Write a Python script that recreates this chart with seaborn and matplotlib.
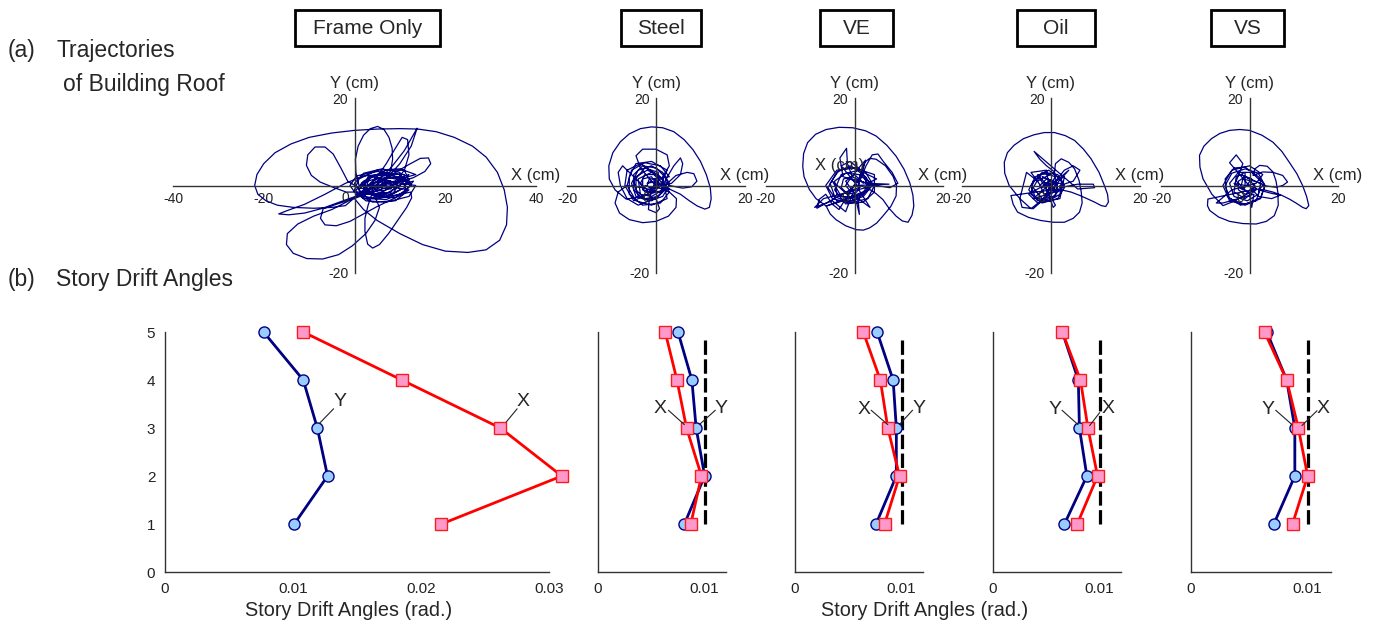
import numpy as np
import pandas as pd
import matplotlib
matplotlib.use("Agg")
import matplotlib.pyplot as plt
from matplotlib.patches import Rectangle
import seaborn as sns

# ---- data ----
cases = ['Frame Only', 'Steel', 'VE', 'Oil', 'VS']
stories = [1, 2, 3, 4, 5]

# story drift angles (rad.), story 1..5
drift_y = {
    'Frame Only': [0.0101, 0.0127, 0.0119, 0.0108, 0.0077],
    'Steel': [0.0081, 0.0100, 0.0092, 0.0088, 0.0075],
    'VE': [0.0076, 0.0095, 0.0095, 0.0092, 0.0077],
    'Oil': [0.0067, 0.0088, 0.0081, 0.0080, 0.0065],
    'VS': [0.0071, 0.0089, 0.0089, 0.0082, 0.0065],
}
drift_x = {
    'Frame Only': [0.0216, 0.0310, 0.0262, 0.0185, 0.0108],
    'Steel': [0.0087, 0.0097, 0.0083, 0.0074, 0.0063],
    'VE': [0.0084, 0.0098, 0.0087, 0.0080, 0.0064],
    'Oil': [0.0079, 0.0098, 0.0089, 0.0082, 0.0065],
    'VS': [0.0087, 0.0100, 0.0092, 0.0082, 0.0063],
}
limit_angle = 0.01

# roof trajectories (cm), as pieces of (X, Y)
fo_loops = [
    [(5, 0), (2, -1), (-2, -4.6), (-5, -5), (-9, -5.2), (-13.5, -5), (-17, -4.5), (-19.5, -3.5),
     (-21.3, -2), (-22, 0), (-21.5, 2.5), (-20, 5), (-17.5, 7.5), (-14, 9.5), (-10, 11), (-5, 12),
     (0, 12.6), (5, 12.9), (10, 13), (14, 12.9), (18, 12.3), (22, 11), (26, 9), (29, 6.5),
     (31.5, 3), (33, -1), (33.7, -5), (33.5, -9), (32, -12.5), (29, -14.7), (25, -15.3), (20, -15),
     (15, -13.5), (10, -11), (5, -8), (2, -5.5), (0, -3), (3, -1)],
    [(4, 0), (8, 4), (11, 8), (13.8, 13.1), (12.5, 9), (10, 5), (7, 1.5)],
    [(-1.8, -3.8), (-5, -5.5), (-9, -7), (-12.5, -8.8), (-14.8, -11), (-15, -13.5), (-13.5, -15.5),
     (-10.5, -16.7), (-7, -16.8), (-3.5, -15.8), (-0.5, -13.8), (2.5, -11), (4.5, -8), (5.5, -5),
     (4.5, -2.5), (2.5, -1)],
    [(7, 0), (3, -1.5), (-2, -3.3), (-7, -5.2), (-11, -6.3), (-14.5, -6.7), (-16.7, -6.5),
     (-15, -5.8), (-11, -4.3), (-6.5, -2), (-2, 0.5), (2, 2.2), (6, 2.5), (9.8, 1.5), (9, 0.3), (6, 0)],
    [(1, 0), (0.3, 3), (0.2, 6), (0.8, 9), (2, 11.5), (3.5, 13), (5.1, 13.5), (6.5, 12.8),
     (7.6, 11), (8.3, 8.5), (8.4, 6), (8, 3.5), (6.9, 1.5), (5, 0.5)],
    [(6, 1), (9, 3), (12, 4.8), (14.5, 6.2), (16.3, 6.3), (16.8, 5), (15.5, 3.2), (13, 1.8),
     (10, 0.8), (7, -0.5)],
    [(-6.9, -5.3), (-7.5, -7.5), (-6.5, -9), (-4, -9.2), (-1, -8.2), (2, -6.5), (5, -4.8),
     (8.4, -3.1), (11, -1.8), (12.4, -1.5), (12.6, -2.8), (11.5, -5), (9.5, -8), (7.5, -11),
     (5.5, -13.5), (4, -14.3), (2.9, -13.4), (2.3, -10.5), (2.3, -7.5), (3, -4.5), (4, -1.5)],
    [(4, -0.8), (1, -0.6), (-1.5, 1), (-3, 4), (-4.7, 7.2), (-6.5, 8.8), (-8.7, 8.8), (-10.3, 7),
     (-10.6, 4.6), (-9.5, 2.3), (-7.6, 0.8), (-4.5, -0.5), (-1.8, -1.5), (1.5, -1.5)],
    [(5, 2), (7, 5), (9, 8.5), (10.5, 11), (11.7, 10.5), (12, 7), (11, 3.5), (9, 1)],
]
fo_core = [
    [(12, 0.5), (10, 2.5), (5, 3.2), (0.5, 2.2), (-1, 0), (0.5, -2.2), (5, -3), (10, -2), (12.5, 0)],
    [(11, 3.5), (7, 3.5), (2, 1), (0, -1.5), (2, -3), (6, -2.5), (10, 0), (12, 2.5)],
    [(9, 1.5), (6, 2), (3, 1), (2.5, -1), (5, -2), (8, -1.5), (9.5, 0)],
    [(13, 1), (11, -1.5), (7, -3.2), (3, -3), (1, -1), (3, 1.8), (7, 2.8), (11, 2.5)],
    [(11, 1), (8, 2.5), (4, 2.2), (2, 0), (4, -2), (8, -2.2), (11, -0.5), (12, 1.5)],
    [(8, 0.5), (6, 1.2), (4, 0.5), (4.5, -1), (6.5, -1.2), (8, -0.3)],
    [(12, -1), (9, -3.5), (4, -3.8), (1.5, -2.5), (3, 0), (7, 1.8), (11, 1.5), (12.5, 0)],
    [(9.5, 2), (6, 2.8), (3, 2), (2, -0.5), (4.5, -2.5), (9, -2.8), (11.5, -1), (10.5, 1)],
    [(10, 3), (6, 3.8), (2, 2.8), (0, 0.5), (1.5, -1.8), (5, -2), (8, -0.5), (10, 1.5)],
    [(13.5, 2.5), (10, 3.8), (5, 3.5), (1, 1.5), (0, -1), (2.5, -3.5), (7, -3.8), (12, -2.5), (13.5, 0)],
    [(7, 1), (4, 2), (1.5, 0.5), (3, -2), (7, -2.5), (10, -1), (9, 1), (6, 0.5)],
    [(8, 1), (5.5, 1.8), (3.5, 0.5), (5, -1.5), (8.5, -1.8), (9.5, -0.2), (8, 1)],
    [(6.5, 0.2), (7.5, 1), (9, 0.5), (8, -0.8), (6, -0.6), (5, 0.3)],
]
st_loops = [
    [(3, -0.8), (0, -1.5), (-3, -2.5), (-6.7, -3.1), (-9.2, -1), (-10.5, 1.5), (-10.6, 4.5),
     (-9.7, 7.5), (-8, 10), (-6, 11.8), (-3.5, 13), (-1, 13.4), (1.5, 13.2), (4, 12.3), (6.3, 10.5),
     (8.3, 8.2), (10, 5.5), (11.3, 2.5), (12.2, -0.5), (12.4, -3), (12, -5), (11, -5.4), (9.3, -4.7),
     (7.5, -3.5), (5.5, -2), (3, -0.8)],
    [(0.7, -1.5), (-3, -0.5), (-6.5, 0), (-8.5, -1.5), (-9.2, -4), (-8.2, -6.3), (-6, -7.8),
     (-3, -8.5), (0, -8.2), (2.8, -7), (4.5, -5), (4.6, -3), (3, -1.5), (0.5, -0.5)],
    [(-1, 1), (-3.5, 4), (-4.5, 6.8), (-3, 8.3), (0, 8.3), (2.5, 7), (3, 4.5), (1.5, 2), (0, 0.5)],
    [(2, 0), (4.5, 2.3), (7, 3), (8.5, 2.7), (9.2, 1), (8, -0.3), (6, -0.6), (3, 0)],
    [(2, 1), (4, 4.5), (5.5, 6.3), (6, 5), (5.5, 2.5), (3.5, 0.5)],
    [(-2, -1), (-5, 2), (-7.5, 4.5), (-8.5, 3), (-8, 0), (-6.5, -3), (-4, -4.5), (-1.5, -3.5)],
    [(0, -3), (0.8, -5.3), (0, -6.2), (-1.7, -5.5), (-1.5, -3)],
]
st_core = [
    [(3, 0.5), (1.5, 3), (-1, 4.5), (-4, 3.5), (-5.5, 0.5), (-4.5, -2.5), (-1.5, -3.5), (1.5, -2.5), (3, 0)],
    [(2, 2), (0, 4), (-3, 4.5), (-5, 2.5), (-5, -1), (-3, -3), (0, -3), (2, -1)],
    [(1, 1), (-0.5, 2.5), (-2.5, 2.5), (-3.5, 0.5), (-2.5, -1.5), (-0.5, -1.5), (1, 0)],
    [(2.5, 3.5), (-1, 5.5), (-4.5, 5), (-6, 2), (-6, -2), (-3, -4.5), (1, -4), (3, -1.5)],
    [(2, 0.5), (0.5, 2.5), (-2, 3.5), (-4.5, 2), (-4.5, -1), (-2.5, -3), (0.5, -2.5), (2, -0.5)],
    [(0, 1.5), (-1.5, 1.5), (-2, 0), (-1, -0.8), (0.5, 0)],
    [(0.5, 3), (-2.5, 4), (-5, 1), (-4, -2.5), (-1, -3.5), (1.5, -1.5), (1.5, 1.5)],
    [(-3.5, 5), (-6.5, 3.5), (-7, 0), (-5, -3.5), (-2, -2), (0, 0.5)],
    [(-1, 2), (-3, 1.5), (-3, -1), (-1, -1.5), (0.5, 0), (-0.5, 1.5)],
    [(3, 2), (1, 4.5), (-2.5, 5.2), (-5.5, 3.5), (-6.5, 0), (-4.5, -3.5), (-1, -4.5), (2.5, -3)],
    [(1.5, 1.5), (-1, 3), (-4, 1.5), (-3.5, -2), (-1, -2.5), (1.5, -1), (0.5, 1)],
    [(-2, 0.5), (-1, 1), (0, 0), (-1, -0.5), (-2.5, 0)],
]
ve_loops = [
    [(3.4, -0.9), (0, -2.5), (-3.5, -3.8), (-6.4, -4.7), (-8.7, -3), (-10.2, -0.9), (-11.4, 2),
     (-11.7, 4.4), (-11.5, 7.3), (-10.6, 9.8), (-8.8, 11.7), (-6.4, 12.8), (-3.5, 13.3), (-0.4, 13.2),
     (2.5, 12.5), (4.9, 11.3), (7.3, 9.2), (9.4, 6.7), (11.2, 3.7), (12.5, 0.6), (13.2, -2.2),
     (13.4, -4.7), (13, -6.8), (12.1, -8.4), (10.8, -8.1), (9.4, -7), (7.8, -5.2), (6.4, -3.2),
     (4.8, -1.8), (3.4, -0.9)],
    [(-6.4, -4.7), (-5.5, -6.5), (-4.2, -7.8), (-2, -9.2), (0.4, -10.1), (2, -10.2), (3.4, -9.7),
     (5, -8.6), (6.4, -7), (8.2, -4.8), (9.4, -2.4), (9.5, 0), (8.7, 2.1), (7, 4.5), (4.9, 6),
     (3.4, 6.2), (2.3, 5.3), (1.5, 3), (0.8, 1)],
    [(1, 0.5), (2.6, 4.5), (4, 7), (5.3, 7.2), (6.5, 5.5), (8.5, 3), (9.8, 0.5), (8, -0.5), (5, 0)],
    [(-2.6, 2), (-3.3, 6.3), (-1.8, 8.5), (-1.6, 5), (-0.5, 2), (0.5, 3.5), (2.5, 5.8), (1.5, 2)],
    [(-1, -1), (-8.5, -5.2), (-8, -3.2), (-6.5, -2), (-5, -4.3), (-3.5, -5.5), (-2, -3)],
    [(0, 0), (7.8, 0.3), (3, 0.5)],
]
ve_core = [
    [(4, 0.5), (2.5, 3), (-0.5, 4.2), (-3.5, 3.5), (-5.5, 0.5), (-4.5, -2.5), (-1.5, -3.8), (2, -2.5), (4, 0)],
    [(2, 2.5), (-1, 4.5), (-4, 3), (-6, -0.5), (-4, -3.5), (0, -3.5), (3, -1), (2.5, 2)],
    [(3, 1), (1, 2.5), (-2, 2.8), (-4.5, 1), (-4, -2), (-1, -3), (2, -2), (3.5, 0)],
    [(1.5, 1), (-0.5, 2), (-2.5, 1.5), (-3, -0.5), (-1.5, -2), (0.5, -1.5), (1.5, 0)],
    [(5, 1.5), (1, 3.5), (-3, 2.5), (-4.5, -1), (-2, -4.2), (2, -3.8), (4.5, -1.5)],
    [(4.5, 2.5), (0, 4), (-4, 3.5), (-6.5, 0), (-5, -3), (-1, -4), (3, -3), (4.5, 0)],
    [(-7, -3), (-9, -5), (-5, -3.5), (-2, -6), (-0.5, -2), (3.5, -5), (1, -1)],
    [(1, 0.5), (-1, 1.5), (-2, 0), (-1, -1.2), (1, -0.5)],
    [(-3, 4.5), (-1, 5.5), (1.5, 3.5), (3, 0), (1, -3), (-3, -2.5), (-5, 1)],
    [(0.5, -4), (1.1, -6.6), (0.8, -3), (-2, 1), (0, 2.5), (2, 0.5)],
]
oil_loops = [
    [(1.5, -0.8), (-1, -2.5), (-4.5, -5.3), (-7, -3), (-9.4, 0), (-10.4, 2.8), (-10.5, 5.3),
     (-9.8, 7.5), (-8.3, 9.2), (-6.2, 10.7), (-3.8, 11.6), (-1.5, 12.1), (0.8, 12.1), (3.2, 11.4),
     (5.3, 10.3), (7.3, 8.3), (9, 6.1), (10.8, 3), (12, 0), (12.7, -2), (12.9, -3.8), (12.3, -4.8),
     (11.3, -4.6), (9.8, -3.8), (8.3, -3.1), (6.3, -2.2), (4.5, -1.5), (1.5, -0.8)],
    [(-9, -2.3), (-8.5, -4.3), (-7.5, -6.1), (-5, -7.3), (-2.3, -8), (0.5, -8.4), (3, -8.4),
     (5, -7.5), (6.4, -6.1), (7, -4), (6.8, -1.5), (6.3, 1.2), (5.3, 3.8), (4, 5.3), (2.3, 6.1),
     (1, 5), (0.8, 3.1)],
    [(1, 1), (3, 3.5), (5, 4.5), (6.5, 3.5), (5, 1), (2, 0)],
    [(2, -0.5), (6, 0.3), (9.5, 0.3), (9.8, -0.5), (6, -0.8)],
    [(-3.8, 7.8), (-2.5, 6), (-1, 4.5), (0.8, 3.1)],
    [(-3, 1), (-5.5, 3), (-6, 1), (-7, -3), (-6.5, -5), (-4, -5.3), (-2, -3.5)],
]
oil_core = [
    [(3, 0), (1.5, 2.5), (-1.5, 3), (-4, 1), (-4.5, -2), (-2, -4), (1.5, -3), (3, -0.5)],
    [(2, 1.5), (-0.5, 3.5), (-3.5, 2), (-5, -1), (-3, -3.5), (0, -3), (2, -1)],
    [(2.5, 1), (0.5, 2.8), (-2.5, 2.5), (-4.5, 0), (-3.5, -2.8), (-0.5, -3.5), (2, -2), (2.5, 0.5)],
    [(1, 0.5), (-1, 1.5), (-2.5, 0), (-1.5, -2), (0.5, -1.5), (1, 0)],
    [(0, 0), (4, 3.5), (0, -1), (-3, 2.5), (1, -4.5), (0.5, -5), (-1, -1), (2.5, -1), (-4, -3), (0, 0.5)],
    [(1, 2), (-2, 3), (-4, -0.5), (-2, -3), (1, -2.5), (1.5, 0.5)],
    [(-2, 2), (0.5, 1), (-1, -2.5), (1.5, 0.5), (-0.5, 0)],
    [(-1, 3.5), (-4.5, 3), (-2, -0.5), (3, 2), (2, -3), (-3, -4), (-5, -2)],
    [(0, 1), (-1.5, 0.5), (-1, -1), (0.5, -0.5), (0, 1)],
]
vs_loops = [
    [(1.5, -0.8), (-1.5, -2.5), (-4, -3.8), (-6, -4.6), (-8.5, -2), (-10.5, 1.5), (-11.2, 4.2),
     (-11.3, 6.9), (-10.3, 9), (-8.6, 10.7), (-6.7, 11.9), (-4.5, 12.6), (-2.2, 12.8), (0, 12.6),
     (2.8, 11.5), (5.3, 9.9), (7.3, 7.8), (9, 5.3), (10.7, 2.7), (12, 0), (12.9, -2.5), (13.4, -4.6),
     (12.8, -5.3), (12, -5), (10.5, -4), (9, -3.1), (7.2, -2.2), (5.3, -1.5), (3.3, -1), (1.5, -0.8)],
    [(-9.4, -3.1), (-9.5, -4.6), (-9, -5.7), (-7, -7.2), (-4.5, -8.2), (-1.5, -8.7), (1.5, -8.8),
     (3.8, -8.2), (5.6, -6.9), (6.5, -4.5), (6.4, -1.5), (6, 1), (5.3, 3.1), (4, 4.4), (2.3, 4.6),
     (1.2, 3.8), (0.8, 2.3)],
    [(3, 3.1), (5.3, 3), (7.5, 2.3), (8.6, 0.8), (7.5, 0), (6, -0.4), (3, 0)],
    [(2, -1), (5, -1.8), (7, -2.2), (5, -3), (2, -2.5)],
    [(-4.5, 5.2), (-3, 7), (-1.5, 5), (-3, 1)],
]
vs_core = [
    [(3.5, 0), (2, 2.8), (-1, 3.8), (-4, 2.8), (-5.5, 0), (-4.5, -3), (-1, -4.3), (2.5, -2.8), (3.5, 0)],
    [(2, 2), (-1, 4.2), (-3.5, 4), (-5.5, 1.5), (-5, -2.5), (-2, -4.5), (1.5, -3.5), (2.5, -0.5)],
    [(2.5, 1), (0.5, 3), (-2.5, 3), (-4.5, 0.5), (-3.5, -2.5), (-0.5, -3.5), (2, -2), (2.5, 0.5)],
    [(1, 1), (-1, 2), (-2.5, 1), (-2.5, -1), (-1, -2), (0.8, -1.2), (1, 0.5)],
    [(0, -2), (0.5, -5), (1, -2), (-6, -4), (-7.5, -4), (-4, -1), (1.5, 0.5)],
    [(3, 2.5), (0, 4.5), (-4, 3.5), (-6, 0), (-4.5, -3.5), (-1, -4.5), (2.5, -3), (3.5, 0)],
    [(-2, 2.5), (0.5, 1.5), (-1.5, -1), (-3.5, 0.5), (-1, 0)],
    [(-1, 3), (-3, 2), (-3.5, -1.5), (-1, -3), (1.5, -1), (0, 1.5)],
    [(0.5, 1), (-1.5, 1.5), (-2, -0.5), (-0.5, -1.5), (0.8, -0.5)],
]
traj = {
    'Frame Only': fo_core[:5] + fo_loops + fo_core[5:],
    'Steel': st_core[:5] + st_loops + st_core[5:],
    'VE': ve_core[:4] + ve_loops + ve_core[4:],
    'Oil': oil_core[:4] + oil_loops + oil_core[4:],
    'VS': vs_core[:4] + vs_loops + vs_core[4:],
}

# annotation labels: (label, text xy, leader line start, leader line end)
notes = {
    'Frame Only': [('Y', (0.0137, 3.56), (0.01317, 3.40), (0.01208, 3.10)),
                   ('X', (0.0280, 3.56), (0.02751, 3.40), (0.02666, 3.125))],
    'Steel': [('X', (0.0058, 3.40), (0.0066, 3.37), (0.0081, 3.07)),
              ('Y', (0.0115, 3.41), (0.0110, 3.37), (0.0095, 3.07))],
    'VE': [('X', (0.0065, 3.39), (0.00714, 3.37), (0.0087, 3.07)),
           ('Y', (0.0116, 3.41), (0.01102, 3.37), (0.00978, 3.07))],
    'Oil': [('Y', (0.0058, 3.39), (0.00647, 3.37), (0.00797, 3.07)),
            ('X', (0.0108, 3.41), (0.0100, 3.32), (0.00906, 3.05))],
    'VS': [('Y', (0.0066, 3.39), (0.00726, 3.37), (0.00866, 3.07)),
           ('X', (0.0113, 3.41), (0.0108, 3.36), (0.00951, 3.05))],
}

W, H = 1376, 628
sns.set_style('white')
plt.rcParams['font.family'] = ['Liberation Sans', 'DejaVu Sans']

fig = plt.figure(figsize=(W / 100, H / 100), dpi=100)

def px_axes(x0, x1, y0, y1):
    # pixel box (top-left origin) -> figure axes
    return fig.add_axes([x0 / W, 1 - y1 / H, (x1 - x0) / W, (y1 - y0) / H])

navy = '#000080'
axcol = '#333333'

# top row : trajectories
top_px = {'Frame Only': (173, 536), 'Steel': (567, 745), 'VE': (766, 943),
          'Oil': (962, 1140), 'VS': (1161, 1338)}
for c in cases:
    x0, x1 = top_px[c]
    ax = px_axes(x0, x1, 98, 273)
    lim = 40 if c == 'Frame Only' else 20
    step = 10 if c == 'Frame Only' else 5
    pts = [p for seg in traj[c] for p in seg]
    df = pd.DataFrame(pts, columns=['X', 'Y'])
    sns.lineplot(data=df, x='X', y='Y', sort=False, estimator=None, color=navy,
                 lw=0.9, ax=ax)
    ax.set_xlim(-lim, lim)
    ax.set_ylim(-20, 20)
    for s in ['top', 'right']:
        ax.spines[s].set_visible(False)
    for s in ['left', 'bottom']:
        ax.spines[s].set_position(('data', 0))
        ax.spines[s].set_color(axcol)
        ax.spines[s].set_linewidth(1.0)
    xt = np.arange(-lim, lim + 1, step)
    ax.set_xticks(xt)
    ax.set_xticklabels([str(v) if v in (-lim, lim, -20, 20) else '' for v in xt])
    yt = np.arange(-20, 21, 5)
    ax.set_yticks(yt)
    ax.set_yticklabels([str(v) if abs(v) == 20 else '' for v in yt])
    ax.tick_params(direction='inout', length=5, width=1, color=axcol, labelsize=10,
                   pad=2, labelcolor='#222222')
    ax.set_xlabel('')
    ax.set_ylabel('')
    ax.patch.set_alpha(0)
    ax.text(-1.2, -1.2, '0', ha='right', va='top', fontsize=10, color='#222222')
    ax.annotate('X (cm)', xy=(lim, 0), xytext=(0, 2), textcoords='offset points',
                ha='center', va='bottom', fontsize=12, annotation_clip=False)
    ax.annotate('Y (cm)', xy=(0, 20), xytext=(0, 5), textcoords='offset points',
                ha='center', va='bottom', fontsize=12, annotation_clip=False)
    if c == 'VE':
        ax.text(-3.4, 4.6, 'X (cm)', ha='center', va='center', fontsize=12)

# title boxes
boxes = {'Frame Only': (295, 440), 'Steel': (621, 701), 'VE': (820, 893),
         'Oil': (1017, 1095), 'VS': (1211, 1284)}
for c in cases:
    x0, x1 = boxes[c]
    fig.patches.append(Rectangle((x0 / W, 1 - 46 / H), (x1 - x0) / W, 36 / H,
                                 transform=fig.transFigure, fill=False, ec='black', lw=2))
    fig.text((x0 + x1) / 2 / W, 1 - 28 / H, c, ha='center', va='center', fontsize=15)

# bottom row : drift angles
bot_px = {'Frame Only': (165, 549, 0.030), 'Steel': (598, 726, 0.012),
          'VE': (795, 923, 0.012), 'Oil': (993, 1121, 0.012), 'VS': (1191, 1331, 0.012)}
for c in cases:
    x0, x1, xmax = bot_px[c]
    ax = px_axes(x0, x1, 332, 572)
    d = pd.DataFrame({'story': stories * 2,
                      'angle': drift_y[c] + drift_x[c],
                      'dir': ['Y'] * 5 + ['X'] * 5})
    if c != 'Frame Only':
        ax.plot([limit_angle, limit_angle], [1, 4.85], color='black', lw=2.3,
                ls=(0, (4.5, 1.4)), zorder=1)
    sns.lineplot(data=d[d.dir == 'Y'], x='angle', y='story', sort=False, orient='y',
                 estimator=None, color=navy, lw=2, marker='o', markersize=8,
                 markerfacecolor='#99ccff', markeredgecolor=navy, markeredgewidth=1,
                 ax=ax, clip_on=False, zorder=3)
    sns.lineplot(data=d[d.dir == 'X'], x='angle', y='story', sort=False, orient='y',
                 estimator=None, color='#ff0000', lw=2, marker='s', markersize=8,
                 markerfacecolor='#ff99cc', markeredgecolor='#ff1a1a', markeredgewidth=1,
                 ax=ax, clip_on=False, zorder=4)
    ax.set_xlim(0, xmax)
    ax.set_ylim(0, 5)
    for s in ['top', 'right']:
        ax.spines[s].set_visible(False)
    for s in ['left', 'bottom']:
        ax.spines[s].set_color(axcol)
        ax.spines[s].set_linewidth(1.0)
    xt = np.arange(0, xmax + 1e-9, 0.005)
    ax.set_xticks(xt)
    ax.set_xticklabels(['0' if v == 0 else ('%.2f' % v if abs(v * 100 - round(v * 100)) < 1e-6 else '')
                        for v in xt])
    ax.set_yticks(range(6))
    if c == 'Frame Only':
        ax.set_yticklabels([str(v) for v in range(6)])
    else:
        ax.set_yticklabels([''] * 6)
    ax.tick_params(direction='out', length=4, width=1, color=axcol, labelsize=11,
                   pad=3, labelcolor='#222222')
    ax.set_xlabel('')
    ax.set_ylabel('')
    ax.patch.set_alpha(0)
    for lab, txy, p0, p1 in notes[c]:
        ax.text(txy[0], txy[1], lab, ha='center', va='center', fontsize=14)
        ax.plot([p0[0], p1[0]], [p0[1], p1[1]], color='#222222', lw=0.8, zorder=5)

# section labels
fig.text(8 / W, 1 - 50 / H, '(a)', ha='left', va='center', fontsize=16.5)
fig.text(56 / W, 1 - 50 / H, 'Trajectories', ha='left', va='center', fontsize=16.5)
fig.text(63 / W, 1 - 84 / H, 'of Building Roof', ha='left', va='center', fontsize=16.5)
fig.text(8 / W, 1 - 279 / H, '(b)', ha='left', va='center', fontsize=16.5)
fig.text(56 / W, 1 - 279 / H, 'Story Drift Angles', ha='left', va='center', fontsize=16.5)
fig.text(349 / W, 1 - 610 / H, 'Story Drift Angles (rad.)', ha='center', va='center', fontsize=14.3)
fig.text(925 / W, 1 - 610 / H, 'Story Drift Angles (rad.)', ha='center', va='center', fontsize=14.3)

fig.savefig('out.png', dpi=100)
